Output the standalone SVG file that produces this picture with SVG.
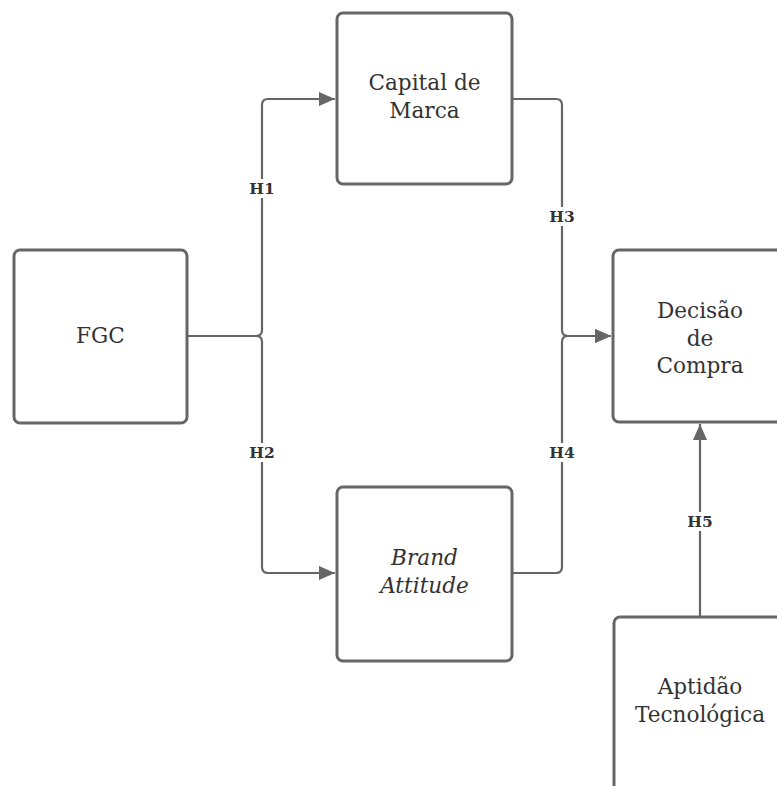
<svg xmlns="http://www.w3.org/2000/svg" width="777" height="786" viewBox="0 0 777 786">
<defs>
<style>
.box{fill:#fff;stroke:#666;stroke-width:3}
.t{font-family:"DejaVu Serif","Liberation Serif",serif;font-size:21.6px;fill:#333;text-anchor:middle}
.i{font-style:italic}
.c{fill:none;stroke:#666;stroke-width:2.2}
.lb{font-family:"DejaVu Serif","Liberation Serif",serif;font-size:15.5px;font-weight:bold;fill:#333;text-anchor:middle}
.lbg{fill:#fff}
</style>
<marker id="ah" viewBox="0 0 16 14" refX="16" refY="7" markerWidth="16" markerHeight="14" markerUnits="userSpaceOnUse" orient="auto">
<path d="M0,0 L16,7 L0,14 Z" fill="#666"/>
</marker>
</defs>
<rect width="777" height="786" fill="#fff"/>
<g id="connectors">
<path class="c" d="M187,336 H256 Q262,336 262,330 V105 Q262,99 268,99 H335" marker-end="url(#ah)"/>
<path class="c" d="M187,336 H256 Q262,336 262,342 V567 Q262,573 268,573 H335" marker-end="url(#ah)"/>
<path class="c" d="M512,99 H556 Q562,99 562,105 V330 Q562,336 568,336 H611" marker-end="url(#ah)"/>
<path class="c" d="M512,573 H556 Q562,573 562,567 V342 Q562,336 568,336 H611" marker-end="url(#ah)"/>
<path class="c" d="M700,617 V424" marker-end="url(#ah)"/>
<rect class="lbg" x="248" y="179" width="28" height="19"/>
<text class="lb" x="262" y="194">H1</text>
<rect class="lbg" x="248" y="443" width="28" height="19"/>
<text class="lb" x="262" y="458">H2</text>
<rect class="lbg" x="548" y="207" width="28" height="19"/>
<text class="lb" x="562" y="222">H3</text>
<rect class="lbg" x="548" y="443" width="28" height="19"/>
<text class="lb" x="562" y="458">H4</text>
<rect class="lbg" x="686" y="512" width="28" height="19"/>
<text class="lb" x="700" y="527">H5</text>
</g>
<g id="fgc">
<rect class="box" x="14" y="250" width="173" height="173" rx="6"/>
<text class="t" x="100.5" y="343">FGC</text>
</g>
<g id="capital">
<rect class="box" x="337" y="13" width="175" height="171" rx="6"/>
<text class="t" x="424.5" y="90">Capital de</text>
<text class="t" x="424.5" y="118">Marca</text>
</g>
<g id="brand">
<rect class="box" x="337" y="487" width="175" height="174" rx="6"/>
<text class="t i" x="424.5" y="565">Brand</text>
<text class="t i" x="424.5" y="593">Attitude</text>
</g>
<g id="decisao">
<rect class="box" x="613" y="250" width="174" height="172" rx="6"/>
<text class="t" x="700" y="318">Decisão</text>
<text class="t" x="700" y="346">de</text>
<text class="t" x="700" y="373">Compra</text>
</g>
<g id="aptidao">
<rect class="box" x="614" y="617" width="174" height="180" rx="6"/>
<text class="t" x="700" y="694">Aptidão</text>
<text class="t" x="700" y="722">Tecnológica</text>
</g>
</svg>
